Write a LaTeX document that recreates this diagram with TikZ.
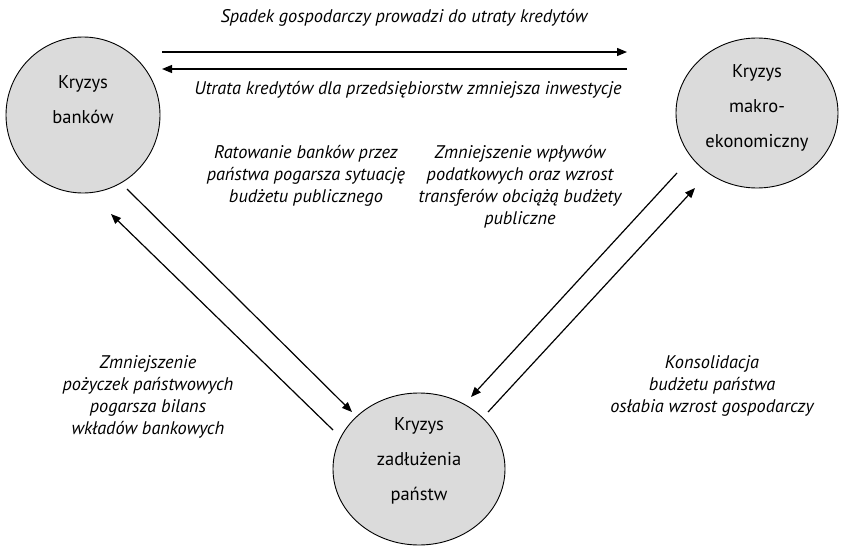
\documentclass[tikz,border=0pt]{standalone}
\usepackage{fontspec}
\setmainfont{PT Sans}
\usetikzlibrary{shapes.geometric,arrows.meta}
\begin{document}
\begin{tikzpicture}[x=1pt,y=-1pt,
  crisis/.style={draw=black,line width=0.9pt,fill=black!14,ellipse,inner sep=0pt},
  ctext/.style={align=center,inner sep=0pt,font=\fontsize{18.5}{35}\selectfont},
  flow/.style={line width=1.2pt,-{Triangle[length=10pt,width=8pt]}},
  lbl/.style={align=center,font=\itshape\fontsize{18.3}{22}\selectfont,inner sep=0pt}]
\useasboundingbox (0,0) rectangle (841,546);
\node[crisis,minimum width=154pt,minimum height=156pt] (banks) at (83,115) {};
\node[crisis,minimum width=162pt,minimum height=150pt] (macro) at (757,113) {};
\node[crisis,minimum width=172pt,minimum height=152pt] (debt) at (419,469) {};
\node[ctext] (banksT) at (83,100) {Kryzys\\banków};
\node[ctext] (macroT) at (757,108) {Kryzys\\makro-\\ekonomiczny};
\node[ctext] (debtT) at (419,461) {Kryzys\\zadłużenia\\państw};
% top pair
\coordinate (t1s) at (162,52); \coordinate (t1e) at (627,52);
\coordinate (t2s) at (627,69); \coordinate (t2e) at (162,69);
\draw[flow] (t1s) -- (t1e);
\draw[flow] (t2s) -- (t2e);
% left pair
\coordinate (l1s) at (127,189); \coordinate (l1e) at (352,412);
\coordinate (l2s) at (333,430); \coordinate (l2e) at (111,214);
\draw[flow] (l1s) -- (l1e);
\draw[flow] (l2s) -- (l2e);
% right pair
\coordinate (r1s) at (677,173); \coordinate (r1e) at (471,397);
\coordinate (r2s) at (488,412); \coordinate (r2e) at (695,188);
\draw[flow] (r1s) -- (r1e);
\draw[flow] (r2s) -- (r2e);
% labels
\node[lbl] (ltop) at (404,18) {Spadek gospodarczy prowadzi do utraty kredytów};
\node[lbl] (lbot) at (408,90) {Utrata kredytów dla przedsiębiorstw zmniejsza inwestycje};
\node[lbl,anchor=north] (lres) at (306,145) {Ratowanie banków przez\\państwa pogarsza sytuację\\budżetu publicznego};
\node[lbl,anchor=north] (ltax) at (520,145) {Zmniejszenie wpływów\\podatkowych oraz wzrost\\transferów obciążą budżety\\publiczne};
\node[lbl,anchor=north] (lloan) at (148,355) {Zmniejszenie\\pożyczek państwowych\\pogarsza bilans\\wkładów bankowych};
\node[lbl,anchor=north] (lcons) at (712,355) {Konsolidacja\\budżetu państwa\\osłabia wzrost gospodarczy};
\end{tikzpicture}
\end{document}
